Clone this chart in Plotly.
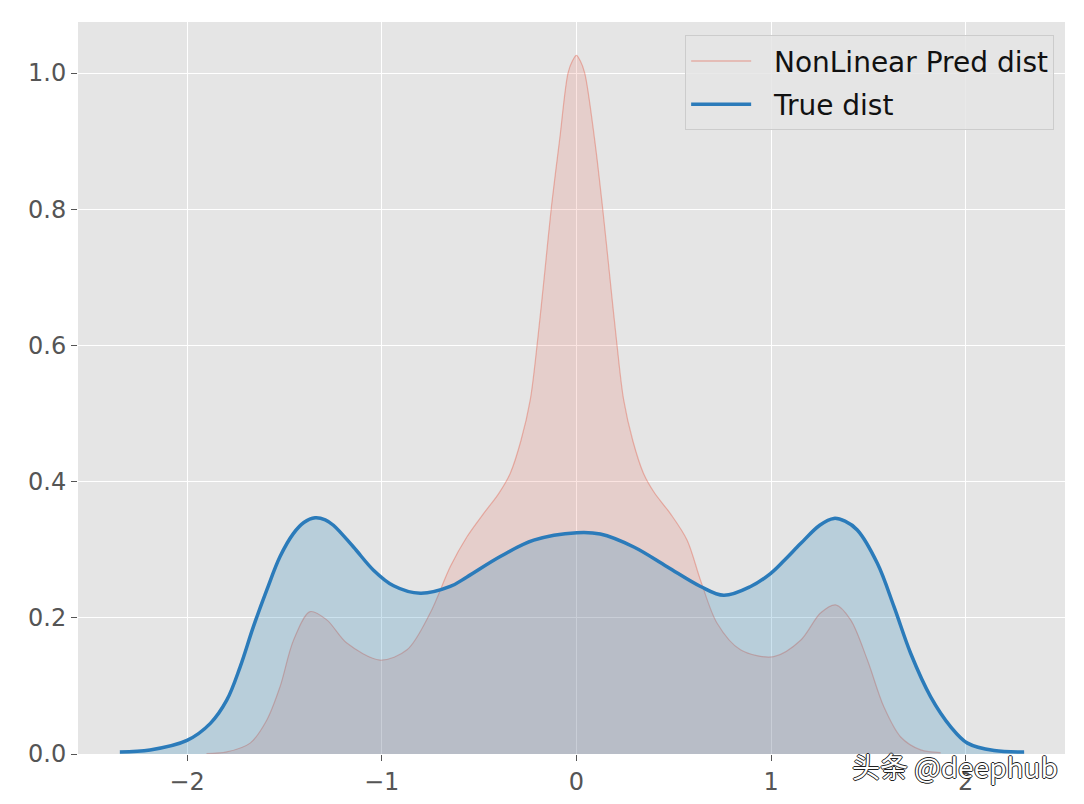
import plotly.graph_objects as go

# True distribution
true_x = [-2.345, -2.19, -2.0, -1.88, -1.796, -1.727, -1.659, -1.59, -1.522, -1.453,
          -1.40, -1.342, -1.29, -1.248, -1.145, -1.042, -0.939, -0.802, -0.648, -0.562,
          -0.391, -0.219, 0.003, 0.123, 0.295, 0.466, 0.638, 0.757, 0.895, 0.997,
          1.07, 1.152, 1.25, 1.323, 1.38, 1.443, 1.546, 1.632, 1.717, 1.82,
          1.923, 2.009, 2.146, 2.3]
true_y = [0.003, 0.006, 0.02, 0.045, 0.079, 0.128, 0.187, 0.241, 0.29, 0.324,
          0.340, 0.347, 0.344, 0.336, 0.304, 0.27, 0.247, 0.236, 0.246, 0.26,
          0.29, 0.314, 0.325, 0.323, 0.304, 0.275, 0.246, 0.233, 0.246, 0.265,
          0.285, 0.309, 0.336, 0.346, 0.342, 0.329, 0.28, 0.216, 0.148, 0.084,
          0.04, 0.016, 0.005, 0.003]

# NonLinear prediction distribution
pred_x = [-1.9, -1.796, -1.676, -1.59, -1.522, -1.453, -1.368, -1.282, -1.179, -1.008,
          -0.87, -0.751, -0.648, -0.562, -0.477, -0.40, -0.34, -0.285, -0.237, -0.199,
          -0.163, -0.128, -0.086, -0.043, -0.02, 0.0, 0.02, 0.043, 0.094, 0.134,
          0.17, 0.206, 0.243, 0.29, 0.345, 0.40, 0.483, 0.569, 0.638, 0.723,
          0.843, 1.014, 1.152, 1.254, 1.332, 1.409, 1.495, 1.58, 1.666, 1.769, 1.871]
pred_y = [0.0005, 0.003, 0.016, 0.05, 0.099, 0.167, 0.209, 0.197, 0.163, 0.138,
          0.153, 0.207, 0.275, 0.319, 0.353, 0.382, 0.412, 0.46, 0.52, 0.608,
          0.706, 0.804, 0.902, 1.0, 1.018, 1.026, 1.018, 1.0, 0.902, 0.804,
          0.706, 0.608, 0.52, 0.46, 0.412, 0.384, 0.353, 0.314, 0.255, 0.192,
          0.153, 0.143, 0.167, 0.207, 0.219, 0.197, 0.138, 0.069, 0.025, 0.006, 0.002]

x_ticks = [-2, -1, 0, 1, 2]
y_ticks = [0.0, 0.2, 0.4, 0.6, 0.8, 1.0]
y_tick_labels = ["0.0", "0.2", "0.4", "0.6", "0.8", "1.0"]

PRED_LINE = "rgba(226,74,51,0.35)"
PRED_FILL = "rgba(226,74,51,0.15)"
TRUE_LINE = "#2b7bba"
TRUE_FILL = "rgba(52,138,189,0.25)"
GAP = "\u00a0\u00a0"

fig = go.Figure()
fig.add_trace(go.Scatter(x=pred_x, y=pred_y, mode="lines", fill="tozeroy",
                         line=dict(color=PRED_LINE, width=1.2, shape="spline", smoothing=0.9),
                         fillcolor=PRED_FILL, showlegend=False, hoverinfo="skip"))
fig.add_trace(go.Scatter(x=true_x, y=true_y, mode="lines", fill="tozeroy",
                         line=dict(color=TRUE_LINE, width=3.5, shape="spline", smoothing=1),
                         fillcolor=TRUE_FILL, showlegend=False, hoverinfo="skip"))
# legend-only entries
fig.add_trace(go.Scatter(x=[None], y=[None], mode="lines", name=GAP + "NonLinear Pred dist",
                         legendgroup="a", line=dict(color=PRED_LINE, width=1.5)))
fig.add_trace(go.Scatter(x=[None], y=[None], mode="lines", name=GAP + "True dist",
                         legendgroup="b", line=dict(color=TRUE_LINE, width=3.5)))

fig.update_layout(
    width=1076, height=796,
    margin=dict(l=70, r=19, t=14, b=50, autoexpand=False),
    paper_bgcolor="white",
    plot_bgcolor="#e5e5e5",
    font=dict(family="DejaVu Sans", size=24, color="#555555"),
    legend=dict(x=0.989, xanchor="right", y=0.982, yanchor="top",
                bgcolor="rgba(229,229,229,0.85)", bordercolor="#cccccc", borderwidth=1,
                font=dict(family="DejaVu Sans", size=28, color="#111111"),
                itemwidth=60, tracegroupgap=4),
    annotations=[dict(text="头条 @deephub", x=0.995, xref="paper", xanchor="right",
                      y=-0.0164, yref="paper", yanchor="middle", showarrow=False,
                      font=dict(family="Noto Sans CJK SC", size=28, color="white",
                                shadow="1px 0 0 #222, -1px 0 0 #222, 0 1px 0 #222, 0 -1px 0 #222"))],
)
fig.update_xaxes(range=[-2.56, 2.51], tickvals=x_ticks, showgrid=True, gridcolor="white",
                 gridwidth=1.3, zeroline=False, ticks="outside", ticklen=6, tickwidth=1.2,
                 tickcolor="#555555", showline=False, automargin=False)
fig.update_yaxes(range=[0, 1.075], tickvals=y_ticks, ticktext=y_tick_labels, showgrid=True,
                 gridcolor="white", gridwidth=1.3, zeroline=False, ticks="outside", ticklen=6,
                 tickwidth=1.2, tickcolor="#555555", showline=False, automargin=False)

fig.write_html("out.html")
